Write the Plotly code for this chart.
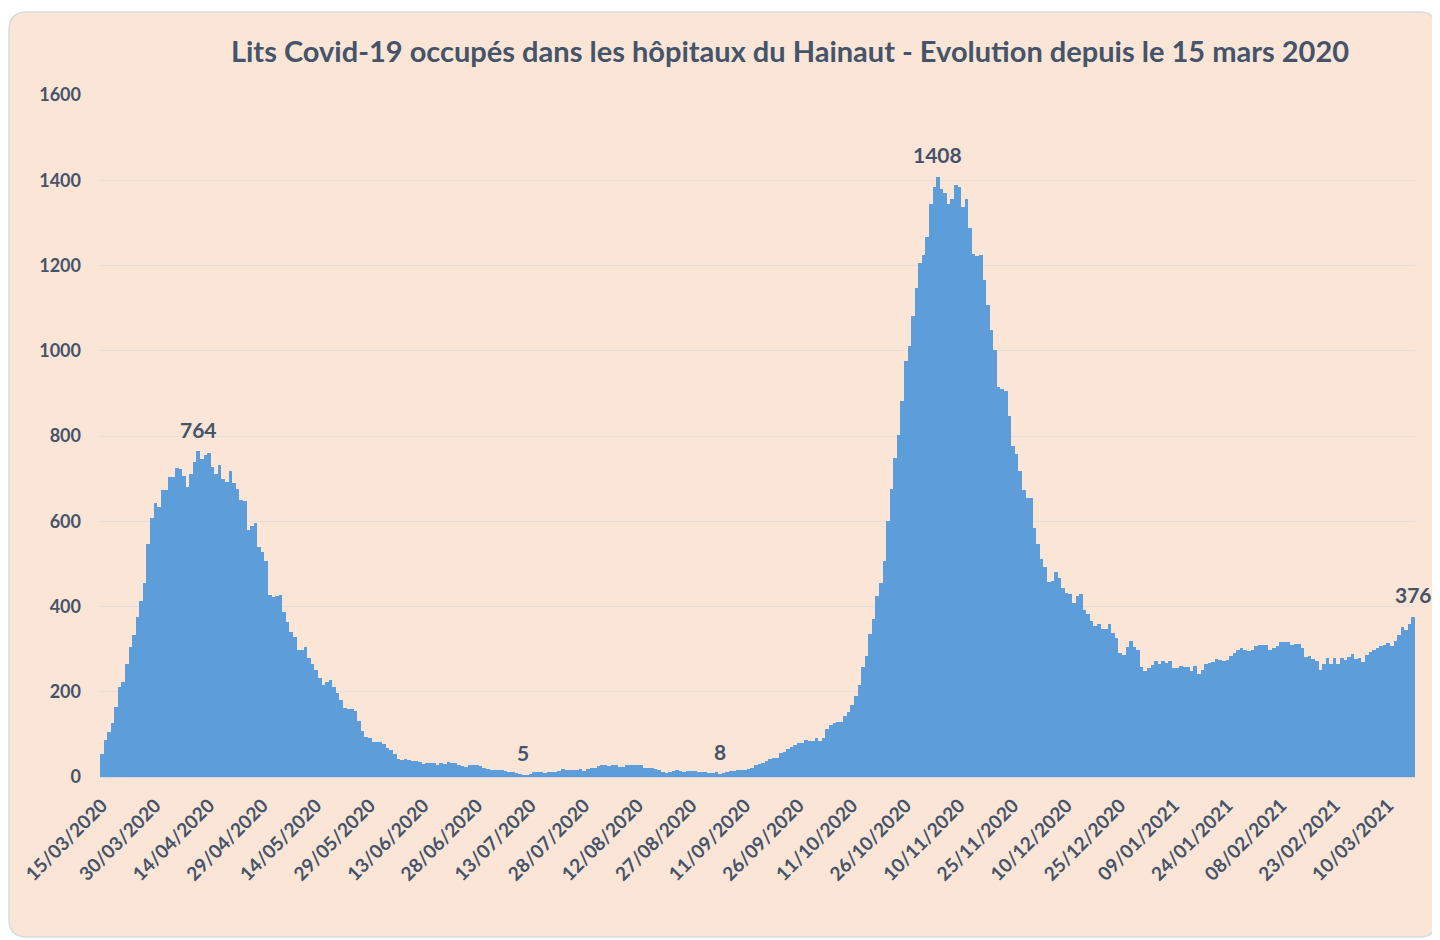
import pandas as pd
import plotly.graph_objects as go

# ---------------- data ----------------
start_date = "2020-03-15"

lits_occupes = [
    55, 87, 106, 126, 165, 212, 222, 265, 306, 333,
    375, 414, 454, 547, 608, 644, 634, 674, 674, 703,
    703, 724, 722, 705, 680, 710, 738, 764, 745, 756,
    761, 728, 712, 732, 698, 692, 719, 690, 675, 650,
    647, 579, 590, 597, 540, 527, 507, 427, 423, 425,
    428, 388, 363, 341, 328, 297, 297, 306, 279, 264,
    250, 232, 217, 224, 227, 212, 196, 180, 163, 160,
    159, 154, 131, 109, 95, 91, 82, 82, 81, 77,
    67, 64, 53, 43, 41, 43, 40, 38, 38, 36,
    30, 33, 33, 34, 29, 34, 31, 35, 34, 33,
    29, 26, 24, 27, 28, 27, 25, 20, 19, 16,
    16, 16, 16, 13, 11, 11, 9, 7, 5, 5,
    6, 11, 12, 12, 9, 12, 12, 12, 15, 18,
    17, 16, 16, 16, 19, 15, 19, 20, 22, 25,
    28, 28, 26, 28, 27, 24, 24, 28, 28, 28,
    28, 28, 21, 21, 21, 19, 16, 11, 9, 12,
    14, 16, 15, 12, 13, 15, 15, 11, 11, 11,
    10, 10, 11, 8, 10, 12, 13, 14, 16, 16,
    17, 19, 21, 28, 30, 33, 38, 42, 45, 45,
    56, 58, 65, 70, 76, 79, 79, 87, 85, 85,
    91, 84, 91, 112, 123, 127, 129, 129, 142, 152,
    169, 189, 217, 257, 284, 335, 370, 425, 454, 506,
    601, 675, 748, 803, 883, 977, 1010, 1082, 1148, 1207,
    1225, 1268, 1345, 1385, 1408, 1379, 1371, 1345, 1356, 1390,
    1385, 1337, 1356, 1287, 1228, 1222, 1224, 1167, 1107, 1049,
    1001, 916, 911, 905, 847, 777, 757, 719, 673, 654,
    654, 585, 547, 511, 492, 457, 461, 480, 466, 444,
    432, 429, 408, 425, 429, 392, 382, 365, 354, 359,
    348, 348, 360, 339, 327, 292, 286, 304, 319, 306,
    298, 257, 249, 256, 262, 271, 264, 273, 267, 273,
    255, 255, 260, 257, 259, 249, 261, 241, 251, 264,
    267, 270, 278, 274, 271, 274, 284, 291, 297, 303,
    298, 295, 298, 307, 310, 309, 310, 297, 302, 308,
    316, 317, 317, 310, 311, 313, 302, 282, 285, 277,
    271, 251, 264, 279, 264, 279, 264, 279, 274, 282,
    289, 278, 280, 269, 287, 294, 297, 303, 308, 310,
    315, 307, 319, 332, 351, 344, 360, 376,
]

dates = pd.date_range(start_date, periods=len(lits_occupes), freq="D")
categories = [d.strftime("%d/%m/%Y") for d in dates]
tick_labels = categories[::15]

# points carrying a data label
labelled_dates = ["11/04/2020", "11/07/2020", "04/09/2020", "04/11/2020", "17/03/2021"]

title_text = "Lits Covid-19 occupés dans les hôpitaux du Hainaut - Evolution depuis le 15 mars 2020"

# ---------------- style ----------------
# the page places the figure 8 px from the window's top-left corner
OFF = 8
W, H = 1440 - OFF, 940 - OFF
ML, MR, MT, MB = 100 - OFF, 25, 95 - OFF, 163
PW, PH = W - ML - MR, H - MT - MB
TEXT = "#44546A"
FONT = "Lato"
CARD = "#FBE5D6"
BAR = "#5C9DDA"


def fx(px):
    return (px - OFF - ML) / PW


def fy(py):
    return (H - MB - (py - OFF)) / PH


def card_path(x0, y0, x1, y1, r):
    rx, ry = r / PW, r / PH
    X0, X1, Y0, Y1 = fx(x0), fx(x1), fy(y0), fy(y1)
    return (
        f"M {X0+rx},{Y0} L {X1-rx},{Y0} Q {X1},{Y0} {X1},{Y0-ry} "
        f"L {X1},{Y1+ry} Q {X1},{Y1} {X1-rx},{Y1} "
        f"L {X0+rx},{Y1} Q {X0},{Y1} {X0},{Y1+ry} "
        f"L {X0},{Y0-ry} Q {X0},{Y0} {X0+rx},{Y0} Z"
    )


fig = go.Figure()
fig.add_trace(
    go.Bar(
        x=categories,
        y=lits_occupes,
        marker=dict(color=BAR, line=dict(width=0)),
        hoverinfo="x+y",
    )
)

value_by_date = dict(zip(categories, lits_occupes))
for d in labelled_dates:
    fig.add_annotation(
        x=d,
        y=value_by_date[d],
        text=f"<b>{value_by_date[d]}</b>",
        showarrow=False,
        yanchor="middle",
        yshift=22,
        font=dict(family=FONT, size=21, color=TEXT),
    )

fig.add_shape(
    type="path",
    xref="paper",
    yref="paper",
    path=card_path(9, 12, 1437, 937, 18),
    fillcolor=CARD,
    line=dict(color="#D6DCE4", width=1.5),
    layer="below",
)

fig.update_layout(
    width=W,
    height=H,
    margin=dict(l=ML, r=MR, t=MT, b=MB),
    paper_bgcolor="white",
    plot_bgcolor="rgba(0,0,0,0)",
    bargap=0,
    showlegend=False,
    title=dict(
        text=f"<b>{title_text}</b>",
        x=(790 - OFF) / W,
        xref="container",
        xanchor="center",
        y=1 - (52 - OFF) / H,
        yref="container",
        yanchor="middle",
        font=dict(family=FONT, size=29, color=TEXT),
    ),
    font=dict(family=FONT, color=TEXT),
)

fig.update_yaxes(
    range=[0, 1600],
    dtick=200,
    showgrid=True,
    gridcolor="#E6E0DC",
    gridwidth=1,
    zeroline=False,
    showline=False,
    ticks="",
    ticklabelstandoff=18,
    tickfont=dict(family=FONT, size=18, color=TEXT, weight="bold"),
    tickformat="d",
)

fig.update_xaxes(
    type="category",
    range=[-0.5, len(categories) - 0.5],
    tickmode="array",
    tickvals=tick_labels,
    ticktext=[f"<b>{t}</b>" for t in tick_labels],
    tickangle=-45,
    showgrid=False,
    showline=True,
    linecolor="#D9D9D9",
    ticks="",
    ticklabelstandoff=9,
    tickfont=dict(family=FONT, size=19, color=TEXT),
)

fig.write_html("out.html")
